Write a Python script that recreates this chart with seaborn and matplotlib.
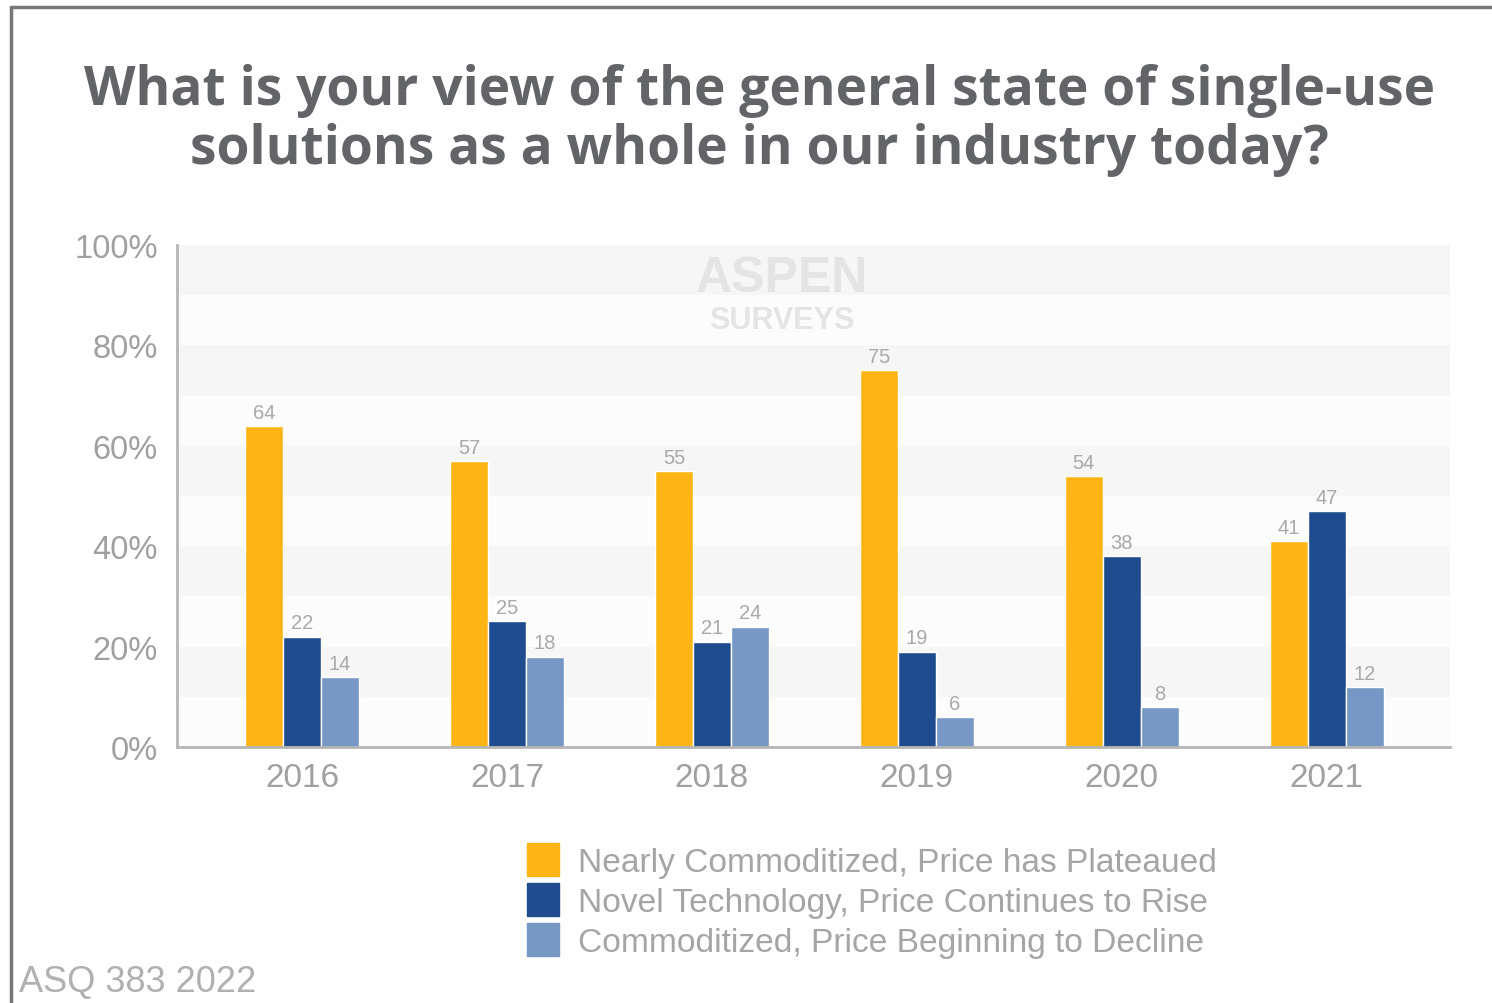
import pandas as pd
import seaborn as sns
import matplotlib.pyplot as plt
from matplotlib.lines import Line2D

years = ["2016", "2017", "2018", "2019", "2020", "2021"]
nearly = [64, 57, 55, 75, 54, 41]
novel = [22, 25, 21, 19, 38, 47]
commod = [14, 18, 24, 6, 8, 12]
series = ["Nearly Commoditized, Price has Plateaued",
          "Novel Technology, Price Continues to Rise",
          "Commoditized, Price Beginning to Decline"]
colors = ["#FDB515", "#1F4C8F", "#7797C4"]
y_ticks = [0, 20, 40, 60, 80, 100]

df = pd.DataFrame({
    "year": years * 3,
    "value": nearly + novel + commod,
    "series": [series[0]] * 6 + [series[1]] * 6 + [series[2]] * 6,
})

sns.set_style("white")
plt.rcParams["font.family"] = ["Liberation Sans", "DejaVu Sans"]

fig = plt.figure(figsize=(14.92, 10.04), dpi=100)
ax = fig.add_axes([0.1186, 0.255, 0.853, 0.5])

# alternating background bands
for lo in range(0, 100, 10):
    c = "#f6f6f6" if (lo // 10) % 2 == 1 else "#fcfcfc"
    ax.axhspan(lo, lo + 10, color=c, zorder=0, lw=0)

sns.barplot(data=df, x="year", y="value", hue="series", hue_order=series,
            palette=colors, width=0.555, saturation=1, ax=ax, zorder=2,
            legend=False)

for cont in ax.containers:
    ax.bar_label(cont, fmt="%d", padding=3, color="#a9a9a9", fontsize=14.5)

ax.set_xlim(-0.61, 5.6)
ax.set_ylim(0, 100)
ax.set_yticks(y_ticks)
ax.set_yticklabels([f"{v}%" for v in y_ticks])
ax.set_xlabel("")
ax.set_ylabel("")
ax.tick_params(axis="both", length=0, labelsize=24, labelcolor="#a0a0a0")
ax.tick_params(axis="y", labelsize=23.5, pad=14)
ax.tick_params(axis="x", pad=11)
for s in ["top", "right"]:
    ax.spines[s].set_visible(False)
for s in ["left", "bottom"]:
    ax.spines[s].set_color("#b5b5b5")
    ax.spines[s].set_linewidth(2)

# watermark
ax.text(0.475, 0.935, "ASPEN", transform=ax.transAxes, ha="center", va="center",
        fontsize=36, fontweight="bold", color="#e4e4e4", zorder=1)
ax.text(0.475, 0.851, "SURVEYS", transform=ax.transAxes, ha="center", va="center",
        fontsize=22, fontweight="bold", color="#e4e4e4", zorder=1)

# title
fig.text(0.509, 0.88, "What is your view of the general state of single-use\nsolutions as a whole in our industry today?",
         ha="center", va="center", fontsize=38.3, fontweight="bold", color="#636468",
         family=["Open Sans", "DejaVu Sans"], linespacing=1.1)

# legend
handles = [plt.Rectangle((0, 0), 1, 1, color=c) for c in colors]
fig.legend(handles, series, loc="upper left", bbox_to_anchor=(0.3445, 0.173),
           frameon=False, fontsize=24.1, labelcolor="#a5a5a5", handlelength=0.95,
           handleheight=1.15, handletextpad=0.55, labelspacing=0.15,
           borderaxespad=0)

fig.text(0.013, 0.004, "ASQ 383 2022", fontsize=26, color="#b0b0b0", ha="left", va="bottom")

# screenshot border
fig.add_artist(Line2D([0.0075, 0.0075], [0, 0.992], transform=fig.transFigure, color="#777777", lw=2.5))
fig.add_artist(Line2D([0.0075, 1.0], [0.992, 0.992], transform=fig.transFigure, color="#777777", lw=2.5))

fig.savefig("out.png", dpi=100, facecolor="white")
